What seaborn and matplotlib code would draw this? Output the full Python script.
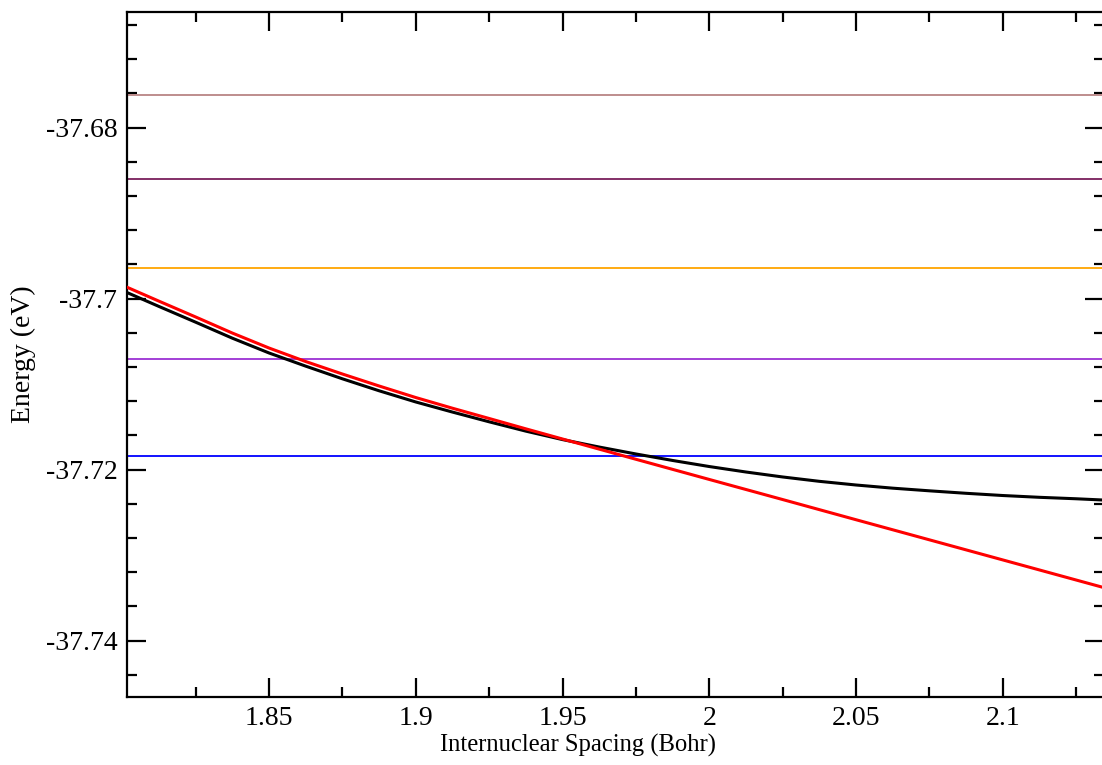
import numpy as np
import pandas as pd
import matplotlib
matplotlib.use("Agg")
import matplotlib.pyplot as plt
from matplotlib.ticker import MultipleLocator
import seaborn as sns

# Internuclear spacing (Bohr) and energy (eV) for the black curve
spacing_black = [1.8000, 1.8125, 1.8250, 1.8375, 1.8500, 1.8625, 1.8750,
                 1.8875, 1.9000, 1.9125, 1.9250, 1.9375, 1.9500, 1.9625,
                 1.9750, 1.9875, 2.0000, 2.0125, 2.0250, 2.0375, 2.0500,
                 2.0625, 2.0750, 2.0875, 2.1000, 2.1125, 2.1250, 2.1350]
energy_black = [-37.69904, -37.70091, -37.70275, -37.70462, -37.70635,
                -37.70789, -37.70937, -37.71077, -37.71208, -37.71326,
                -37.71440, -37.71549, -37.71648, -37.71735, -37.71816,
                -37.71892, -37.71963, -37.72027, -37.72085, -37.72136,
                -37.72179, -37.72216, -37.72247, -37.72276, -37.72302,
                -37.72323, -37.72340, -37.72356]

# Internuclear spacing (Bohr) and energy (eV) for the red curve
spacing_red = [1.8000, 1.8125, 1.8250, 1.8375, 1.8500, 1.8625, 1.8750,
               1.8875, 1.9000, 1.9125, 1.9250, 1.9375, 1.9500, 1.9750,
               2.0000, 2.0250, 2.0500, 2.0750, 2.1000, 2.1250, 2.1350]
energy_red = [-37.69842, -37.70029, -37.70214, -37.70402, -37.70577,
              -37.70735, -37.70881, -37.71021, -37.71156, -37.71281,
              -37.71401, -37.71522, -37.71641, -37.71878, -37.72114,
              -37.72349, -37.72585, -37.72820, -37.73055, -37.73290,
              -37.73384]

# Constant reference levels (eV) and their colours
levels = [-37.6762, -37.6860, -37.6964, -37.7071, -37.7184]
level_colors = ["#b98585", "#7a1f5c", "#ffa500", "#9b30d3", "#0000ff"]

sns.set_theme(style="ticks")
plt.rcParams["font.family"] = ["Liberation Serif", "DejaVu Serif"]

fig = plt.figure(figsize=(11.02, 7.65), dpi=100)
# the frame's right edge sits just past the canvas edge
ax = fig.add_axes([127 / 1102, 1 - 696.7 / 765, (1104 - 127) / 1102, (696.7 - 12) / 765])

for lv, col in zip(levels, level_colors):
    ax.axhline(lv, color=col, lw=1.3, zorder=2)

df = pd.DataFrame({
    "spacing": spacing_black + spacing_red,
    "energy": energy_black + energy_red,
    "curve": ["black"] * len(spacing_black) + ["red"] * len(spacing_red),
})
sns.lineplot(data=df, x="spacing", y="energy", hue="curve",
             palette={"black": "#000000", "red": "#ff0000"},
             estimator=None, sort=True, lw=2.2, legend=False, ax=ax, zorder=3)

ax.set_xlim(1.8016, 2.13452)
ax.set_ylim(-37.74655, -37.66647)

ax.xaxis.set_minor_locator(MultipleLocator(0.025))
ax.yaxis.set_minor_locator(MultipleLocator(0.004))

xticks = [1.85, 1.9, 1.95, 2.0, 2.05, 2.1]
xtick_labels = ["1.85", "1.9", "1.95", "2", "2.05", "2.1"]
yticks = [-37.74, -37.72, -37.7, -37.68]
ytick_labels = ["-37.74", "-37.72", "-37.7", "-37.68"]
ax.set_xticks(xticks)
ax.set_xticklabels(xtick_labels)
ax.set_yticks(yticks)
ax.set_yticklabels(ytick_labels)

ax.tick_params(which="both", direction="in", top=True, right=True,
               width=1.6, color="black", labelsize=20, labelcolor="black")
ax.tick_params(axis="x", which="major", length=14, pad=7)
ax.tick_params(axis="y", which="major", length=14, pad=7)
ax.tick_params(which="minor", length=7)

for sp in ax.spines.values():
    sp.set_visible(True)
    sp.set_linewidth(1.6)
    sp.set_color("black")

ax.set_xlabel("Internuclear Spacing (Bohr)", fontsize=17.7, color="black", va="center")
ax.set_ylabel("Energy (eV)", fontsize=20, color="black", va="center")
ax.xaxis.set_label_coords((577.5 - 127) / 977, (696.7 - 745) / 684.7)
ax.yaxis.set_label_coords((23 - 127) / 977, 0.5)
ax.grid(False)

fig.savefig("out.png", dpi=100)
